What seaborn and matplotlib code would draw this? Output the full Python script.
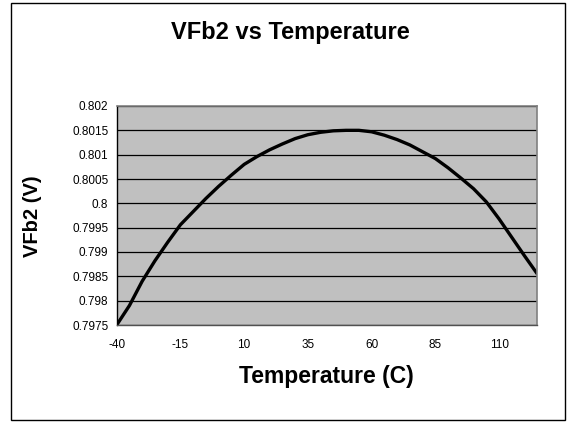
import matplotlib
matplotlib.use("Agg")
import matplotlib.pyplot as plt
import seaborn as sns
import pandas as pd
from matplotlib.ticker import FuncFormatter, MultipleLocator
from matplotlib.patches import Rectangle

temperature = [-40, -35, -30, -25, -20, -15, -10, -5, 0, 5, 10, 15, 20, 25, 30, 35,
               40, 45, 50, 55, 60, 65, 70, 75, 80, 85, 90, 95, 100, 105, 110, 115, 120, 125]
vfb2 = [0.79750, 0.79790, 0.79840, 0.79882, 0.79920, 0.79956, 0.79983, 0.80010,
        0.80035, 0.80058, 0.80080, 0.80096, 0.80110, 0.80122, 0.80133, 0.80141,
        0.80146, 0.80149, 0.80150, 0.80150, 0.80147, 0.80140, 0.80131, 0.80120,
        0.80106, 0.80092, 0.80073, 0.80052, 0.80030, 0.80003, 0.79968, 0.79930,
        0.79892, 0.79855]
x_ticks = [-40, -15, 10, 35, 60, 85, 110]

df = pd.DataFrame({"Temperature": temperature, "VFb2": vfb2})

sns.set_style("white")
plt.rcParams['font.family'] = ['Liberation Sans', 'DejaVu Sans']
plt.rcParams['axes.unicode_minus'] = False
plt.rcParams['text.color'] = 'black'

W, H = 568, 422
fig = plt.figure(figsize=(W / 100, H / 100), dpi=100)
ax = fig.add_axes([116.7 / W, 1 - 325 / H, (537.3 - 116.7) / W, (325 - 106) / H])

ax.set_facecolor("#C0C0C0")
sns.lineplot(data=df, x="Temperature", y="VFb2", ax=ax, color="black", linewidth=2.4)

ax.set_xlim(-40, 125)
ax.set_ylim(0.7975, 0.802)
ax.set_xticks(x_ticks)
ax.xaxis.set_major_formatter(FuncFormatter(lambda v, p: "%d" % round(v)))
ax.yaxis.set_major_locator(MultipleLocator(0.0005))
ax.yaxis.set_major_formatter(FuncFormatter(lambda v, p: ("%.4f" % v).rstrip("0").rstrip(".")))
ax.grid(axis="y", color="black", linewidth=0.9)
ax.grid(axis="x", visible=False)
ax.set_axisbelow(True)

ax.tick_params(axis="both", direction="out", length=4, width=0.9, color="black",
               labelsize=8.5, labelcolor="black")
ax.tick_params(axis="y", pad=2)
ax.tick_params(axis="x", pad=6)

for s in ["top", "right"]:
    ax.spines[s].set_color("#808080")
    ax.spines[s].set_linewidth(1.2)
for s in ["left", "bottom"]:
    ax.spines[s].set_color("black")
    ax.spines[s].set_linewidth(1.0)
ax.spines["bottom"].set_color("#505050")

ax.set_xlabel("")
ax.set_ylabel("")
fig.text(326 / W, 1 - 377 / H, "Temperature (C)",
         ha="center", va="center", fontsize=16.5, fontweight="bold", color="black")
fig.text(33 / W, 1 - 216 / H, "VFb2 (V)", ha="center", va="center", rotation=90,
         fontsize=14.5, fontweight="bold", color="black")
fig.text(290 / W, 1 - 33 / H, "VFb2 vs Temperature", ha="center", va="center",
         fontsize=17, fontweight="bold", color="black")

fig.patches.append(Rectangle((11 / W, 1 - 420 / H), (565 - 11) / W, (420 - 3) / H,
                             transform=fig.transFigure, fill=False,
                             edgecolor="black", linewidth=1.0))

fig.savefig("out.png", dpi=100)
